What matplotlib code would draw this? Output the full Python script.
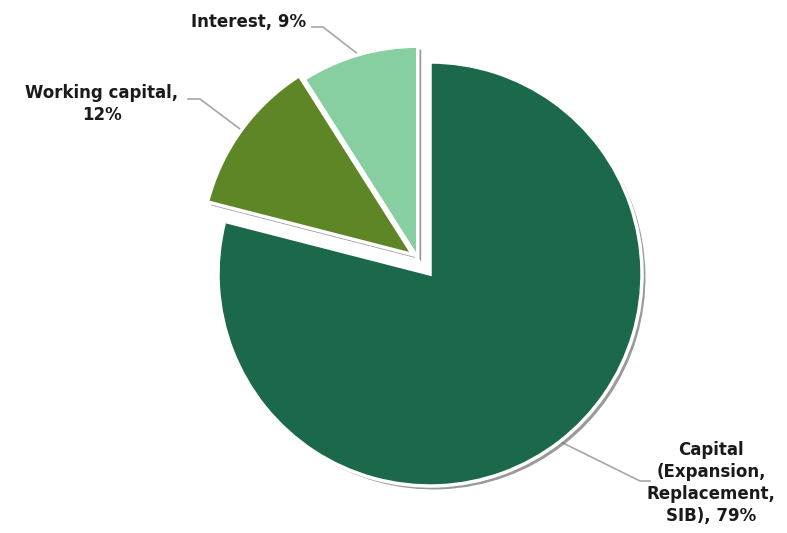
import numpy as np
import matplotlib
matplotlib.use("Agg")
import matplotlib.pyplot as plt
import matplotlib.patheffects as pe

# data
labels = ["Capital\n(Expansion,\nReplacement,\nSIB), 79%", "Working capital,\n12%", "Interest, 9%"]
shares = [79, 12, 9]
colors = ["#1b684b", "#5f8626", "#87cfa1"]
# the two small slices are pulled out together, working capital a bit further
group_pull = [0, 20, 20]
own_pull = [0, 6, 0]

W, H = 787, 533
fig = plt.figure(figsize=(W / 100, H / 100), dpi=100)
ax = fig.add_axes([0, 0, 1, 1])

wedges, _ = ax.pie(shares, colors=colors, startangle=90, counterclock=False,
                   radius=212, center=(430, 259),
                   wedgeprops=dict(edgecolor="white", linewidth=2.5))
ax.set_xlim(0, W)
ax.set_ylim(0, H)
ax.set_aspect("equal")
ax.axis("off")

pulled = [w for w, g in zip(wedges, group_pull) if g]
grp_mid = np.deg2rad((min(w.theta1 for w in pulled) + max(w.theta2 for w in pulled)) / 2)
for w, g, o in zip(wedges, group_pull, own_pull):
    mid = np.deg2rad((w.theta1 + w.theta2) / 2)
    cx, cy = w.center
    w.set_center((cx + g * np.cos(grp_mid) + o * np.cos(mid),
                  cy + g * np.sin(grp_mid) + o * np.sin(mid)))
    w.set_path_effects([pe.SimplePatchShadow(offset=(2.5, -2.5), shadow_rgbFace="#6f6f6f", alpha=0.7),
                        pe.Normal()])

# label text position, elbow end of leader line
text_pos = [(711, 50), (102, 429), (249, 511)]
elbows = [[(640, 52), (650, 52)], [(200, 434), (188, 434)], [(323, 506), (312, 506)]]

for w, lab, tp, elb in zip(wedges, labels, text_pos, elbows):
    mid = np.deg2rad((w.theta1 + w.theta2) / 2)
    cx, cy = w.center
    ax0 = cx + w.r * np.cos(mid)
    ay0 = cy + w.r * np.sin(mid)
    xs = [ax0] + [p[0] for p in elb]
    ys = [ay0] + [p[1] for p in elb]
    ax.plot(xs, ys, color="#a6a6a6", lw=1.2, zorder=0)
    ax.text(tp[0], tp[1], lab, ha="center", va="center", fontsize=12,
            fontweight="bold", color="#1a1a1a", linespacing=1.3)

fig.savefig("out.png", dpi=100)
